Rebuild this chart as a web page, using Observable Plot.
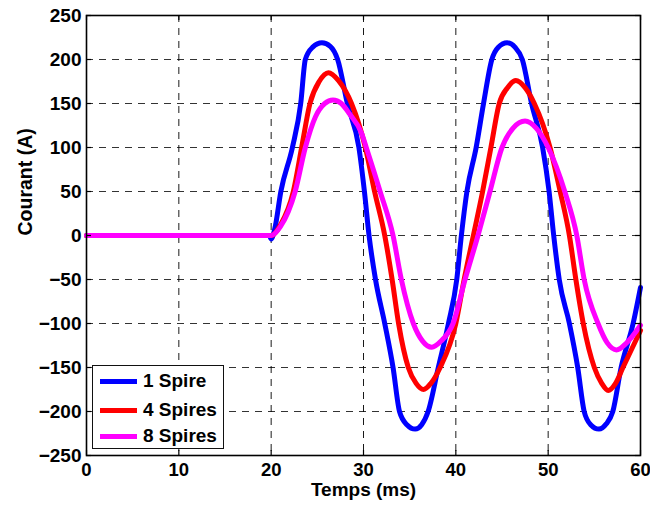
<!DOCTYPE html>
<html>
<head>
<meta charset="utf-8">
<script src="https://cdn.jsdelivr.net/npm/d3@7"></script>
<script src="https://cdn.jsdelivr.net/npm/@observablehq/plot@0.6"></script>
<style>
  body { margin: 0; background: #fff; }
  #wrap { position: relative; width: 650px; height: 506px; font-family: "Liberation Sans", Arial, sans-serif; font-weight: bold; }
  #legend { position: absolute; left: 92px; top: 365px; width: 130px; height: 82px; border: 1.5px solid #111; background: #fff; box-sizing: content-box; }
  .entry { position: absolute; left: 0; height: 24px; display: flex; align-items: center; font-size: 19px; color: #000; }
  .swatch { width: 37px; height: 5px; margin-left: 7px; margin-right: 6px; }
</style>
</head>
<body>
<div id="wrap"></div>
<script>
// ---- data ----
const seriesNames = ["1 Spire", "4 Spires", "8 Spires"];
const seriesColors = ["#0000ff", "#ff0000", "#ff00ff"];

const xTicks = [0, 10, 20, 30, 40, 50, 60];
const yTicks = [-250, -200, -150, -100, -50, 0, 50, 100, 150, 200, 250];

const tBlue = [0, 19.8, 20, 20.4, 21.05, 22.3, 23.2, 23.7, 24.5, 25.5, 26.4, 27.2, 28.25, 29.5, 30.1, 30.6, 31.3, 32.3, 33.2, 33.9, 34.7, 35.6, 36.3, 37.0, 38.1, 39.2, 40.1, 40.6, 41.2, 42.2, 43.0, 43.9, 44.6, 45.55, 46.4, 47.2, 48.2, 49.4, 50.1, 50.6, 51.2, 52.3, 53.2, 53.9, 54.6, 55.5, 56.3, 57.0, 57.9, 59.2, 60];
const vBlue = [0, 0, -4, 8, 50, 100, 150, 200, 214, 219, 215, 200, 150, 100, 50, 0, -50, -100, -150, -200, -215, -220, -215, -200, -150, -100, -50, 0, 50, 100, 150, 200, 214, 219, 214, 200, 150, 100, 50, 0, -50, -100, -150, -200, -215, -220, -214, -200, -150, -100, -59];

const tRed = [0, 20, 21, 22.4, 23.3, 24.2, 25.2, 26.2, 27.3, 28.7, 30.2, 31.2, 32.3, 33.1, 33.8, 34.85, 35.7, 36.5, 37.3, 38.3, 40, 40.9, 41.9, 42.9, 43.8, 44.7, 45.6, 46.5, 47.5, 48.5, 50.2, 51.3, 52.3, 53.0, 53.8, 55.0, 55.8, 56.5, 57.3, 58.1, 60];
const vRed = [0, 0, 12, 50, 100, 150, 175, 185, 176, 150, 100, 50, 0, -50, -100, -150, -168, -175, -168, -150, -100, -50, 0, 50, 100, 150, 168, 176, 168, 150, 100, 50, 0, -50, -100, -150, -168, -176, -168, -150, -108];

const tMagenta = [0, 20, 21, 22.6, 23.7, 24.8, 25.8, 26.7, 27.6, 28.5, 29.8, 30.3, 31.8, 33.2, 34.1, 35.4, 36.4, 37.4, 38.4, 39.7, 41.0, 42.4, 43.7, 45.0, 46.2, 47.5, 48.7, 50.0, 51.8, 53.1, 53.9, 55.4, 56.4, 57.4, 58.5, 60];
const vMagenta = [0, 0, 10, 50, 100, 135, 150, 154, 150, 138, 116, 100, 50, 0, -50, -100, -120, -127, -120, -100, -50, 0, 50, 100, 122, 130, 122, 100, 50, 0, -50, -100, -122, -130, -122, -102];

const xLabel = "Temps (ms)";
const yLabel = "Courant (A)";

// ---- build table ----
const allT = [tBlue, tRed, tMagenta];
const allV = [vBlue, vRed, vMagenta];
const rows = [];
seriesNames.forEach((name, i) => {
  allT[i].forEach((t, j) => rows.push({series: name, t, v: allV[i][j]}));
});

const W = 650, H = 506;
const mL = 86, mR = 10, mT = 15, mB = 51;
const plotH = H - mT - mB;
const plotW = W - mL - mR;
const tickLen = 5;

const chart = Plot.plot({
  width: W,
  height: H,
  marginLeft: mL,
  marginRight: mR,
  marginTop: mT,
  marginBottom: mB,
  style: {background: "#fff", fontFamily: "'Liberation Sans', Arial, sans-serif", fontWeight: "bold", fontSize: "19px", color: "#000"},
  x: {domain: [0, 60]},
  y: {domain: [-250, 250]},
  color: {domain: seriesNames, range: seriesColors},
  marks: [
    Plot.gridX(xTicks, {stroke: "#000", strokeOpacity: 0.9, strokeDasharray: "7,6", strokeWidth: 1}),
    Plot.gridY(yTicks, {stroke: "#000", strokeOpacity: 0.8, strokeDasharray: "7,6", strokeWidth: 1}),
    Plot.line(rows, {x: "t", y: "v", z: "series", stroke: "series", strokeWidth: 5, curve: "monotone-x", strokeLinejoin: "round"}),
    // inward ticks on all four sides
    Plot.tickX(xTicks, {x: d => d, insetTop: plotH - tickLen, stroke: "#000", strokeWidth: 1.2}),
    Plot.tickX(xTicks, {x: d => d, insetBottom: plotH - tickLen, stroke: "#000", strokeWidth: 1.2}),
    Plot.tickY(yTicks, {y: d => d, insetRight: plotW - tickLen, stroke: "#000", strokeWidth: 1.2}),
    Plot.tickY(yTicks, {y: d => d, insetLeft: plotW - tickLen, stroke: "#000", strokeWidth: 1.2}),
    Plot.frame({stroke: "#000", strokeWidth: 1.6}),
    Plot.axisX(xTicks, {tickSize: 0, tickPadding: 7, label: null, fontSize: 18.5, fontWeight: "bold"}),
    Plot.axisY(yTicks, {tickSize: 0, tickPadding: 5, label: null, fontSize: 19, fontWeight: "bold"}),
    Plot.text([xLabel], {frameAnchor: "bottom", dy: 40, fontSize: 19, fontWeight: "bold", fill: "#000"}),
    Plot.text([yLabel], {frameAnchor: "left", dx: -61, rotate: -90, fontSize: 19.5, fontWeight: "bold", fill: "#000"})
  ]
});

const wrap = document.getElementById("wrap");
wrap.appendChild(chart);

// legend
const legend = document.createElement("div");
legend.id = "legend";
const entryTops = [3, 32, 58];
seriesNames.forEach((name, i) => {
  const e = document.createElement("div");
  e.className = "entry";
  e.style.top = entryTops[i] + "px";
  const sw = document.createElement("span");
  sw.className = "swatch";
  sw.style.background = seriesColors[i];
  const tx = document.createElement("span");
  tx.textContent = name;
  e.appendChild(sw);
  e.appendChild(tx);
  legend.appendChild(e);
});
wrap.appendChild(legend);
</script>
</body>
</html>
